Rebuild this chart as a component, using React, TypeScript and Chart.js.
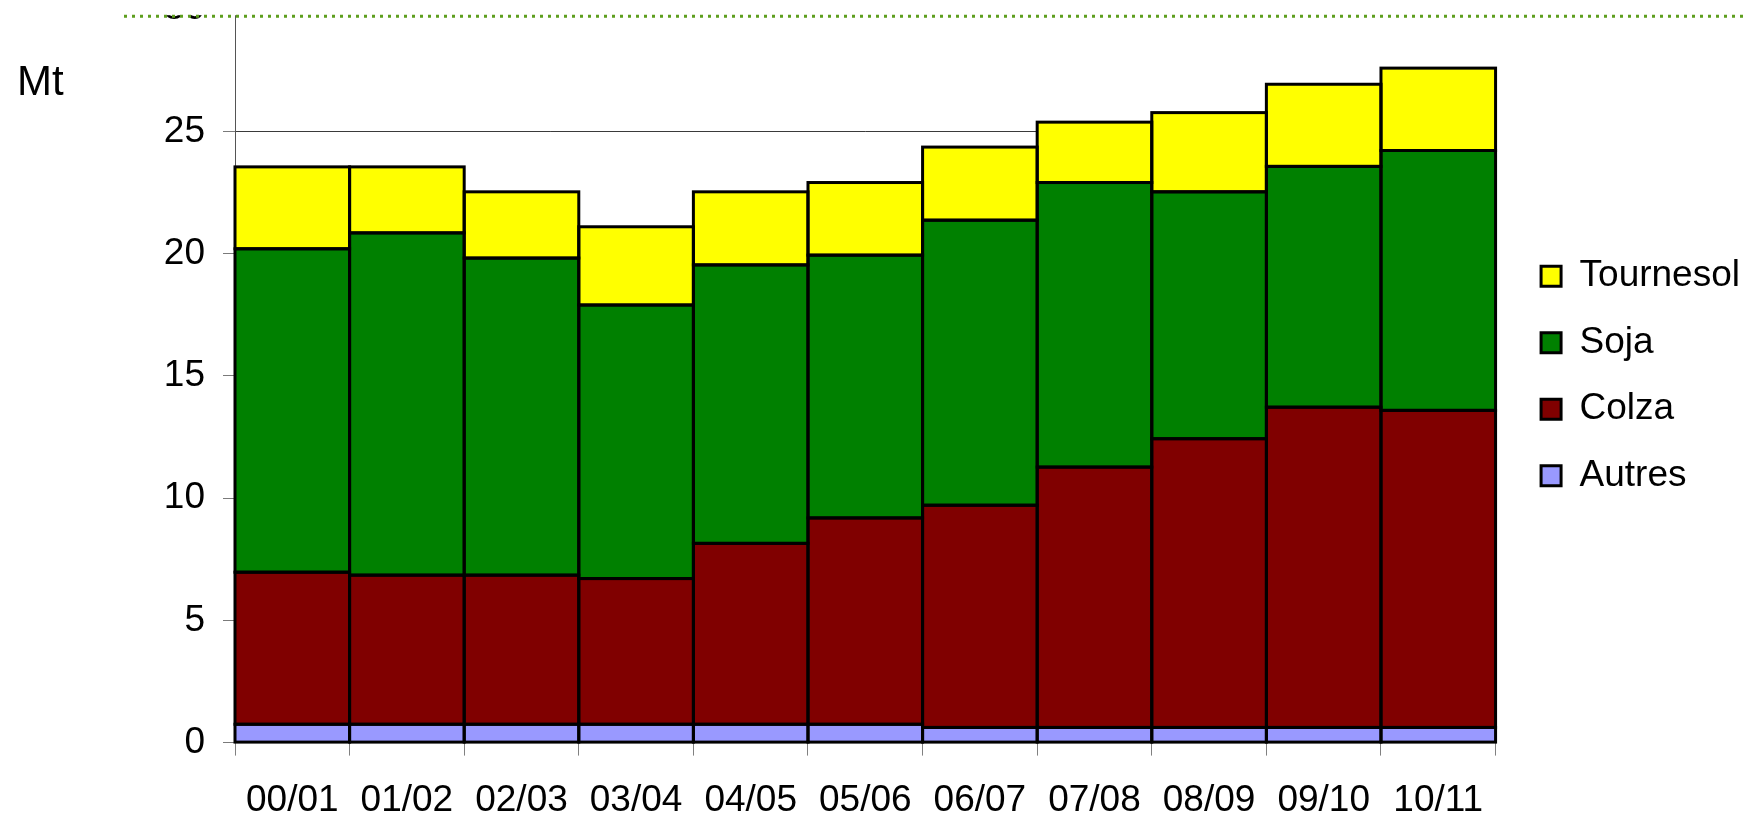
import React, { useEffect, useRef } from 'react';
import { Chart, registerables } from 'chart.js';

Chart.register(...registerables);

// ---- data ----
const categories = ['00/01', '01/02', '02/03', '03/04', '04/05', '05/06', '06/07', '07/08', '08/09', '09/10', '10/11'];
const autres = [0.75, 0.75, 0.75, 0.75, 0.75, 0.75, 0.62, 0.62, 0.62, 0.62, 0.62];
const colza = [6.22, 6.1, 6.1, 5.96, 7.4, 8.44, 9.09, 10.65, 11.81, 13.1, 12.97];
const soja = [13.23, 14.0, 12.97, 11.19, 11.39, 10.75, 11.66, 11.64, 10.1, 9.85, 10.63];
const tournesol = [3.35, 2.7, 2.71, 3.2, 2.99, 2.97, 2.99, 2.47, 3.24, 3.36, 3.37];
const yTicks = [0, 5, 10, 15, 20, 25, 30];
const seriesLabels = ['Autres', 'Colza', 'Soja', 'Tournesol'];
const unitLabel = 'Mt';

// ---- styling / layout ----
const FONT = '"Liberation Sans", Arial, sans-serif';
const colors = ['#9999FF', '#800000', '#008000', '#FFFF00'];
const PAGE_W = 1749;
const PAGE_H = 821;
const PLOT_LEFT = 235;
const PLOT_TOP = 9;
const PLOT_BOTTOM = 742.5;
const LEGEND_LEFT = 1512;
const RIGHT_GAP = 16;

export default function App() {
  const ref = useRef<HTMLCanvasElement | null>(null);

  useEffect(() => {
    const canvas = ref.current as HTMLCanvasElement;

    const decor = {
      id: 'decor',
      afterDatasetsDraw(chart: any) {
        const ctx = chart.ctx;
        ctx.save();
        ctx.strokeStyle = '#000';
        ctx.lineWidth = 3;
        chart.data.datasets.forEach((_ds: any, i: number) => {
          const meta = chart.getDatasetMeta(i);
          if (meta.hidden) return;
          meta.data.forEach((el: any) => {
            const p = el.getProps(['x', 'y', 'base', 'width'], true);
            const top = Math.min(p.y, p.base);
            const h = Math.abs(p.base - p.y);
            ctx.strokeRect(p.x - p.width / 2, top, p.width, h);
          });
        });
        ctx.restore();
      },
      afterDraw(chart: any) {
        const ctx = chart.ctx;
        const off = chart.chartArea.top - PLOT_TOP;
        ctx.save();
        ctx.fillStyle = '#fff';
        ctx.fillRect(0, 0, chart.width, off + 15);
        ctx.strokeStyle = '#5E9E1E';
        ctx.lineWidth = 3;
        ctx.setLineDash([3, 5]);
        ctx.beginPath();
        ctx.moveTo(124, off + 16);
        ctx.lineTo(1746, off + 16);
        ctx.stroke();
        ctx.setLineDash([]);
        ctx.fillStyle = '#000';
        ctx.font = `42px ${FONT}`;
        ctx.textBaseline = 'middle';
        ctx.textAlign = 'left';
        ctx.fillText(unitLabel, 17, off + 83);
        ctx.restore();
      },
    };

    const makeConfig = (padLeft: number): any => ({
      type: 'bar',
      data: {
        labels: categories,
        datasets: [autres, colza, soja, tournesol].map((d, i) => ({
          label: seriesLabels[i],
          data: d,
          backgroundColor: colors[i],
          borderColor: '#000',
          borderWidth: 0,
          barPercentage: 1,
          categoryPercentage: 1,
        })),
      },
      options: {
        responsive: false,
        maintainAspectRatio: false,
        animation: false,
        devicePixelRatio: 1,
        layout: { padding: { left: padLeft, top: 0, right: 0, bottom: 0 } },
        plugins: {
          tooltip: { enabled: false },
          legend: {
            position: 'right',
            fullSize: false,
            reverse: true,
            labels: {
              boxWidth: 20,
              boxHeight: 20,
              padding: 29.5,
              color: '#000',
              font: { size: 37, family: FONT },
              generateLabels: (c: any) =>
                Chart.defaults.plugins.legend.labels
                  .generateLabels(c)
                  .map((l: any) => ({ ...l, lineWidth: 3, strokeStyle: '#000' })),
            },
          },
        },
        scales: {
          x: {
            stacked: true,
            offset: true,
            grid: {
              display: true,
              offset: true,
              drawOnChartArea: false,
              drawTicks: true,
              tickLength: 13,
              tickColor: '#808080',
              tickWidth: 1,
            },
            border: { display: true, color: '#000', width: 1 },
            ticks: {
              color: '#000',
              font: { size: 37, family: FONT },
              padding: 23,
              maxRotation: 0,
              autoSkip: false,
            },
          },
          y: {
            stacked: true,
            min: yTicks[0],
            max: yTicks[yTicks.length - 1],
            ticks: {
              stepSize: yTicks[1] - yTicks[0],
              color: '#000',
              font: { size: 37, family: FONT },
              padding: 18,
            },
            grid: { color: '#3a3a3a', lineWidth: 1, tickLength: 12, tickColor: '#7a7a7a' },
            border: { display: true, color: '#555', width: 1 },
          },
          yGap: {
            position: 'right',
            display: true,
            grid: { display: false, drawTicks: false },
            border: { display: false },
            ticks: { display: false },
            afterFit: (s: any) => {
              s.width = RIGHT_GAP;
            },
          },
        },
      },
      plugins: [decor],
    });

    const build = (w: number, h: number, padLeft: number) => {
      canvas.width = w;
      canvas.height = h;
      canvas.style.width = `${w}px`;
      canvas.style.height = `${h}px`;
      return new Chart(canvas, makeConfig(padLeft));
    };

    const H0 = 860;
    const PL0 = 164;
    let chart = build(1760, H0, PL0);
    const ca = chart.chartArea;
    const legendW = (chart as any).legend.width;
    const dl = PLOT_LEFT - ca.left;
    const dh = PLOT_BOTTOM - PLOT_TOP - (ca.bottom - ca.top);
    chart.destroy();
    chart = build(Math.round(LEGEND_LEFT + legendW), Math.round(H0 + dh), PL0 + dl);
    canvas.style.top = `${-(chart.chartArea.top - PLOT_TOP)}px`;

    return () => {
      chart.destroy();
    };
  }, []);

  return (
    <div
      style={{
        position: 'fixed',
        left: 0,
        top: 0,
        width: PAGE_W,
        height: PAGE_H,
        overflow: 'hidden',
        background: '#fff',
      }}
    >
      <canvas ref={ref} style={{ position: 'absolute', left: 0, top: 0, display: 'block' }} />
    </div>
  );
}
